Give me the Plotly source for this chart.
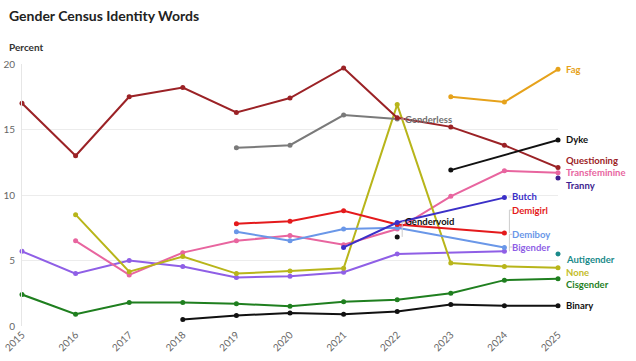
import plotly.graph_objects as go

years = list(range(2015, 2026))

questioning = [17.0, 13.0, 17.5, 18.2, 16.3, 17.4, 19.7, 15.9, 15.2, 13.8, 12.1]
genderless = [None, None, None, None, 13.6, 13.8, 16.1, 15.8, None, None, None]
none_word = [None, 8.5, 4.15, 5.3, 4.0, 4.2, 4.4, 16.9, 4.8, 4.55, 4.45]
transfeminine = [None, 6.5, 3.9, 5.6, 6.5, 6.9, 6.2, 7.4, 9.9, 11.85, 11.7]
bigender = [5.7, 4.0, 5.0, 4.55, 3.7, 3.8, 4.1, 5.5, None, 5.7, None]
cisgender = [2.4, 0.9, 1.8, 1.8, 1.7, 1.5, 1.85, 2.0, 2.5, 3.5, 3.6]
binary = [None, None, None, 0.5, 0.8, 1.0, 0.9, 1.1, 1.65, 1.55, 1.55]
demigirl = [None, None, None, None, 7.8, 8.0, 8.8, 7.75, None, 7.1, None]
demiboy = [None, None, None, None, 7.2, 6.5, 7.4, 7.5, None, 6.0, None]
butch = [None, None, None, None, None, None, 6.0, 7.9, None, 9.8, None]
gendervoid = [None, None, None, None, None, None, None, 6.8, None, None, None]
dyke = [None, None, None, None, None, None, None, None, 11.9, None, 14.2]
fag = [None, None, None, None, None, None, None, None, 17.5, 17.1, 19.6]
tranny = [None, None, None, None, None, None, None, None, None, None, 11.3]
autigender = [None, None, None, None, None, None, None, None, None, None, 5.5]

series = [
    ("Binary", binary, "#111111"),
    ("Cisgender", cisgender, "#1f7f1f"),
    ("Bigender", bigender, "#8f5fe6"),
    ("Transfeminine", transfeminine, "#e8659f"),
    ("None", none_word, "#b8b51a"),
    ("Demiboy", demiboy, "#6a97e8"),
    ("Demigirl", demigirl, "#e41a1c"),
    ("Butch", butch, "#3b30c8"),
    ("Gendervoid", gendervoid, "#111111"),
    ("Genderless", genderless, "#7a7a7a"),
    ("Questioning", questioning, "#9b2226"),
    ("Dyke", dyke, "#111111"),
    ("Fag", fag, "#e6a21b"),
    ("Tranny", tranny, "#3d1d8f"),
    ("Autigender", autigender, "#1a8a8a"),
]
colors = {n: c for n, _, c in series}
values = {n: v for n, v, _ in series}

# label placement (year of anchor, label y in data units)
label_pos = {
    "Fag": (2025, 19.55),
    "Dyke": (2025, 14.2),
    "Questioning": (2025, 12.67),
    "Transfeminine": (2025, 11.7),
    "Tranny": (2025, 10.76),
    "Butch": (2024, 9.85),
    "Demigirl": (2024, 8.85),
    "Demiboy": (2024, 7.0),
    "Bigender": (2024, 6.03),
    "Autigender": (2025, 5.04),
    "None": (2025, 4.12),
    "Cisgender": (2025, 3.2),
    "Binary": (2025, 1.53),
    "Genderless": (2022, 15.8),
    "Gendervoid": (2022, 7.94),
}
text_colors = dict(colors)
text_colors["None"] = "#c4bd2c"
text_colors["Genderless"] = "#6f6f6f"

FONT = "Lato, 'Open Sans', sans-serif"

fig = go.Figure()
for name, vals, col in series:
    fig.add_trace(go.Scatter(
        x=years, y=vals, name=name, mode="lines+markers",
        connectgaps=True,
        line=dict(color=col, width=2),
        marker=dict(color=col, size=5),
        cliponaxis=False, showlegend=False,
    ))

px_per_unit = 262 / 20.0
shapes = []
annotations = []
for name, (yr, ly) in label_pos.items():
    py = values[name][years.index(yr)]
    annotations.append(dict(
        x=yr, y=ly, xref="x", yref="y", text="<b>%s</b>" % name,
        showarrow=False, xanchor="left", yanchor="middle", xshift=6,
        font=dict(size=9.5, color=text_colors[name], family=FONT),
    ))
    if abs(ly - py) * px_per_unit > 3:
        shapes.append(dict(type="line", xref="x", yref="y", xsizemode="pixel",
                           xanchor=yr, x0=5, x1=5, y0=py, y1=ly,
                           line=dict(color="#cccccc", width=1)))
        shapes.append(dict(type="line", xref="x", yref="y", xsizemode="pixel",
                           xanchor=yr, x0=5, x1=8, y0=ly, y1=ly,
                           line=dict(color="#cccccc", width=1)))
    else:
        shapes.append(dict(type="line", xref="x", yref="y", xsizemode="pixel",
                           xanchor=yr, x0=4, x1=7, y0=ly, y1=ly,
                           line=dict(color="#cccccc", width=1)))

annotations.append(dict(
    x=(7 - 22) / 536, y=1 + (64 - 47) / 262, xref="paper", yref="paper",
    text="<b>Percent</b>", showarrow=False, xanchor="left", yanchor="middle",
    font=dict(size=10, color="#333333"),
))
annotations.append(dict(
    x=(7 - 22) / 536, y=1 + (64 - 16) / 262, xref="paper", yref="paper",
    text="<b>Gender Census Identity Words</b>", showarrow=False,
    xanchor="left", yanchor="middle",
    font=dict(size=14, color="#222222"),
))

fig.update_layout(
    width=636, height=361,
    margin=dict(l=22, r=78, t=64, b=35, autoexpand=False),
    paper_bgcolor="white", plot_bgcolor="white",
    font=dict(family=FONT, color="#555555"),
    xaxis=dict(range=[2015, 2025], tickmode="array", tickvals=years,
               ticktext=[str(y) for y in years], tickangle=-45,
               showgrid=False, zeroline=False, showline=False, automargin=False,
               tickfont=dict(size=10, color="#666666"), ticks=""),
    yaxis=dict(range=[0, 20], tickvals=[0, 5, 10, 15, 20], showgrid=True,
               gridcolor="#ececec", gridwidth=1, zeroline=False, automargin=False,
               showline=True, linecolor="#e6e6e6",
               tickfont=dict(size=10, color="#666666"), ticks="",
               ticklabelstandoff=4),
    shapes=shapes,
    annotations=annotations,
)

fig.write_html("out.html", config={"displayModeBar": False},
               post_script="document.body.style.margin='0px';document.body.style.padding='0px';")
